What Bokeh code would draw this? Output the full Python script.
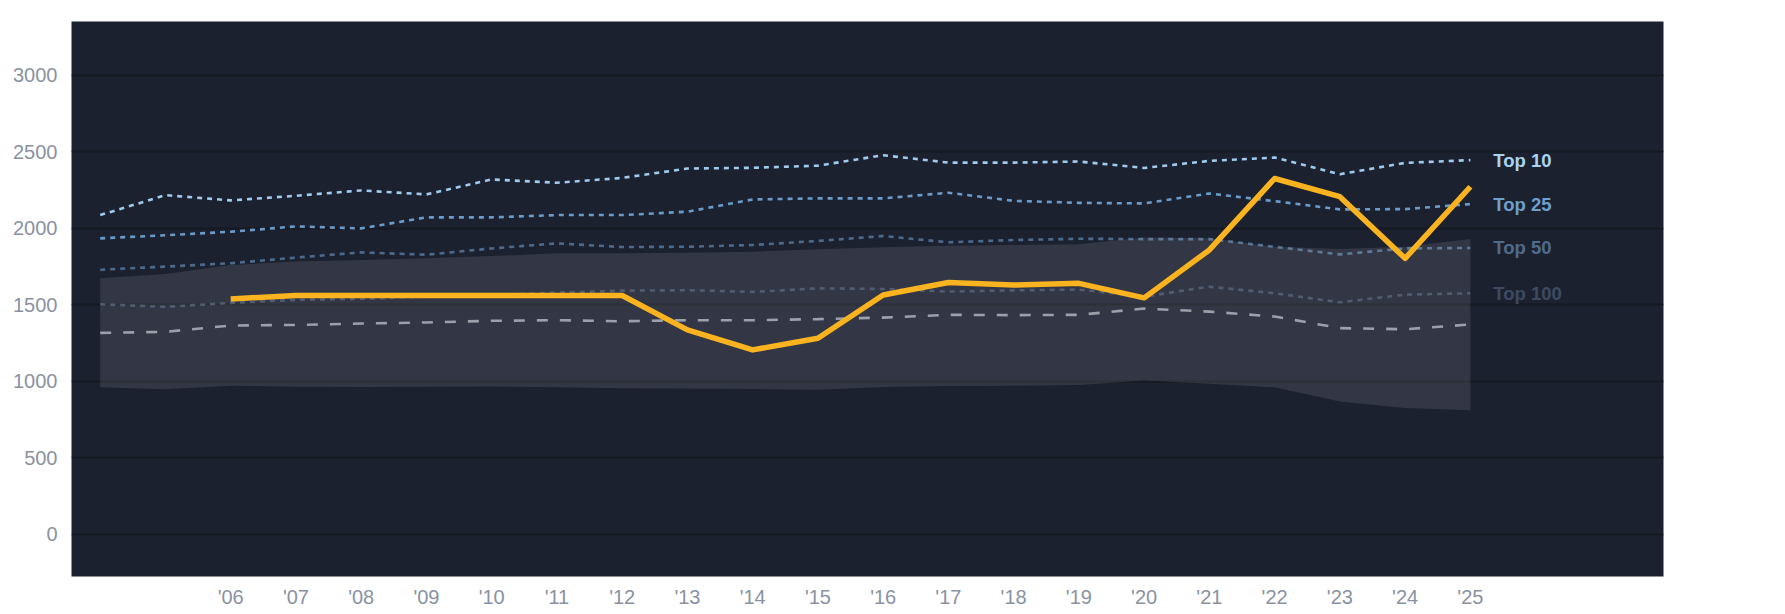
from bokeh.plotting import figure
from bokeh.models import Range1d, FixedTicker, ColumnDataSource
from bokeh.core.properties import value
from bokeh.embed import file_html
from bokeh.resources import INLINE

years = list(range(2004, 2026))
top10 = [2087, 2217, 2183, 2213, 2248, 2222, 2320, 2298, 2330, 2391, 2396, 2410, 2478, 2430, 2430, 2437, 2395, 2441, 2463, 2354, 2428, 2446]
top25 = [1935, 1955, 1978, 2013, 2000, 2072, 2072, 2087, 2087, 2109, 2189, 2196, 2196, 2233, 2180, 2167, 2163, 2228, 2178, 2124, 2126, 2159]
top50 = [1730, 1750, 1772, 1809, 1843, 1828, 1869, 1902, 1878, 1880, 1891, 1918, 1950, 1909, 1924, 1932, 1930, 1930, 1880, 1830, 1869, 1872]
top100 = [1504, 1487, 1513, 1533, 1539, 1554, 1565, 1580, 1593, 1596, 1585, 1608, 1604, 1587, 1595, 1600, 1554, 1619, 1576, 1517, 1567, 1576]
median = [1317, 1324, 1365, 1369, 1378, 1385, 1396, 1400, 1393, 1400, 1400, 1407, 1417, 1435, 1433, 1435, 1476, 1456, 1424, 1348, 1341, 1372]
band_hi = [1674, 1702, 1761, 1783, 1794, 1804, 1819, 1837, 1837, 1841, 1848, 1864, 1876, 1887, 1891, 1896, 1941, 1935, 1880, 1865, 1880, 1930]
band_lo = [961, 948, 972, 965, 963, 965, 967, 961, 956, 954, 950, 946, 963, 970, 972, 976, 1006, 985, 961, 869, 826, 811]

team_years = list(range(2006, 2026))
team = [1539, 1561, 1561, 1561, 1561, 1561, 1561, 1337, 1206, 1282, 1565, 1646, 1630, 1641, 1546, 1859, 2326, 2207, 1804, 2272]

tick_years = list(range(2006, 2026))
tick_labels = ["'%02d" % (y % 100) for y in tick_years]
y_ticks = [0, 500, 1000, 1500, 2000, 2500, 3000]

tier_names = ["Top 10", "Top 25", "Top 50", "Top 100"]
tier_series = [top10, top25, top50, top100]
tier_line_colors = ["#a0cbec", "#6a9bc9", "#4e6a8b", "#3e4a61"]
tier_text_colors = ["#a9d3f3", "#6e9fcd", "#506a8a", "#3d4a62"]

FONT = "Liberation Sans"

p = figure(width=1769, height=610, output_backend="svg", toolbar_location=None,
           x_range=Range1d(2003.56, 2027.96), y_range=Range1d(-275, 3352),
           min_border_left=71, min_border_top=21, min_border_right=106, min_border_bottom=33)
p.background_fill_color = "#1c2130"
p.border_fill_color = "#ffffff"
p.outline_line_color = None

p.xgrid.grid_line_color = None
p.ygrid.grid_line_color = "#151922"
p.ygrid.grid_line_width = 2

for ax in (p.xaxis, p.yaxis):
    ax.axis_line_color = None
    ax.major_tick_line_color = None
    ax.minor_tick_line_color = None
    ax.major_tick_out = 0
    ax.major_tick_in = 0
    ax.minor_tick_out = 0
    ax.minor_tick_in = 0
    ax.major_label_text_color = "#8a92a2"
    ax.major_label_text_font = FONT
    ax.major_label_text_font_size = "20px"

p.yaxis.ticker = FixedTicker(ticks=y_ticks)
p.yaxis.major_label_standoff = 14
p.xaxis.ticker = FixedTicker(ticks=tick_years)
p.xaxis.major_label_overrides = {y: l for y, l in zip(tick_years, tick_labels)}
p.xaxis.major_label_standoff = 9

# tier lines
for s, c in zip(tier_series, tier_line_colors):
    p.line(years, s, line_color=c, line_width=2.6, line_dash="5 5")

# band
p.varea(x=years, y1=band_lo, y2=band_hi, fill_color="#ffffff", fill_alpha=0.1)

# median
p.line(years, median, line_color="#9ba0ab", line_width=2.6, line_dash="11 12")

# team
p.line(team_years, team, line_color="#fbb31f", line_width=5.5, line_join="round")

# labels
lab_src = ColumnDataSource(dict(
    x=[years[-1]] * 4,
    y=[s[-1] for s in tier_series],
    t=tier_names,
    c=tier_text_colors,
))
p.text(x="x", y="y", text="t", text_color="c", source=lab_src, x_offset=23,
       text_baseline="middle", text_align="left", text_font=value(FONT),
       text_font_size="18.5px", text_font_style="bold")

open("out.html", "w").write(file_html(p, INLINE))
